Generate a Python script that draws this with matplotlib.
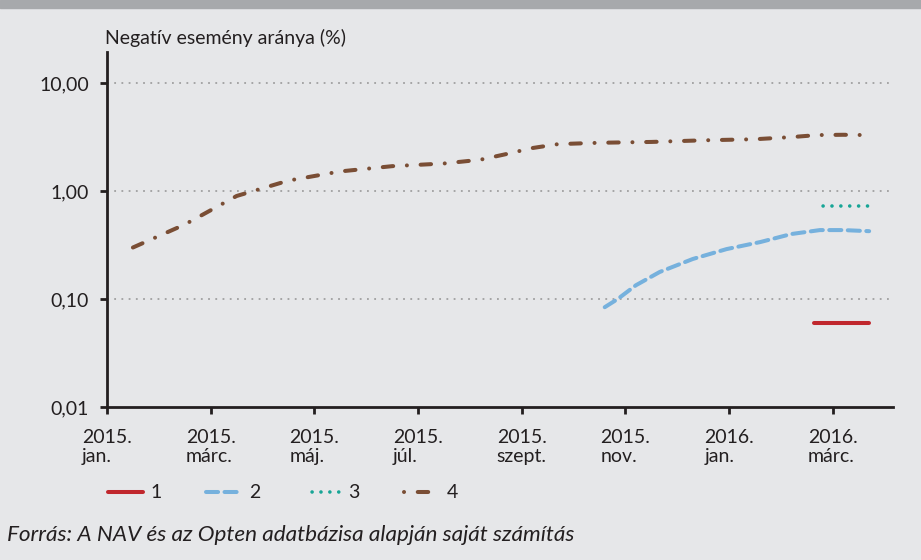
import matplotlib
matplotlib.use("Agg")
import matplotlib.pyplot as plt
from matplotlib.ticker import FixedLocator, NullLocator

plt.rcParams['font.family'] = ['Lato', 'DejaVu Sans']

# month index: 0 = 2015 jan.
tick_months = [0, 2, 4, 6, 8, 10, 12, 14]
tick_labels = ["2015.\njan.", "2015.\nmárc.", "2015.\nmáj.", "2015.\njúl.",
               "2015.\nszept.", "2015.\nnov.", "2016.\njan.", "2016.\nmárc."]

x1 = [13.63, 14.69]
y1 = [0.060, 0.060]

x2 = [9.6, 9.85, 10.2, 10.66, 11.3, 11.95, 12.6, 13.2, 13.75, 14.2, 14.7]
y2 = [0.084, 0.100, 0.134, 0.178, 0.235, 0.290, 0.337, 0.400, 0.435, 0.435, 0.425]

x3 = [13.67, 14.7]
y3 = [0.73, 0.73]

x4 = [0.5, 1.5, 2.5, 3.5, 4.5, 5.5, 6.5, 7.2, 7.7, 8.2, 8.7, 9.5,
      10.5, 11.5, 12.5, 13.2, 13.7, 14.2, 14.65]
y4 = [0.30, 0.49, 0.90, 1.25, 1.52, 1.70, 1.80, 1.95, 2.20, 2.50, 2.72, 2.80,
      2.85, 2.95, 3.02, 3.16, 3.30, 3.32, 3.30]

yticks = [0.01, 0.1, 1, 10]
ytick_labels = ["0,01", "0,10", "1,00", "10,00"]

bg = "#E6E7E9"
ink = "#231F20"
fs = 14

fig = plt.figure(figsize=(9.21, 5.6), dpi=100, facecolor=bg)
fig.patches.append(plt.Rectangle((0, 1 - 8 / 560), 1, 8 / 560, transform=fig.transFigure,
                                 color="#A7A9AC", zorder=0))
ax = fig.add_axes([107 / 921, 1 - 407 / 560, (893 - 107) / 921, (407 - 52) / 560])
ax.set_facecolor(bg)

lw = 2.9
brown_dash = (2.6, 3.4, 0.01, 3.4)
ax.plot(x1, y1, color="#C0272D", lw=lw, solid_capstyle="round", label="1")
ax.plot(x2, y2, color="#76B1DD", lw=lw, dash_capstyle="round", dashes=(3, 1.6), label="2")
ax.plot(x3, y3, color="#17A596", lw=2.6, dash_capstyle="round",
        linestyle=(0.5, (0.01, 2.45)), label="3")
ax.plot(x4, y4, color="#7A4E35", lw=lw, dash_capstyle="round",
        linestyle=(0, brown_dash), label="4")

ax.set_yscale("log")
ax.set_ylim(0.01, 19.4)
ax.set_xlim(0, 15.16)
ax.yaxis.set_major_locator(FixedLocator(yticks))
ax.yaxis.set_minor_locator(NullLocator())
ax.set_yticklabels(ytick_labels)
ax.set_xticks(tick_months)
ax.set_xticklabels(tick_labels, multialignment="left", linespacing=1.15)

for yv in yticks[1:]:
    ax.axhline(yv, color="#A0A0A0", lw=1.3, dashes=(1, 3), zorder=0)

for s in ["top", "right"]:
    ax.spines[s].set_visible(False)
for s in ["left", "bottom"]:
    ax.spines[s].set_linewidth(2)
    ax.spines[s].set_color(ink)
ax.tick_params(axis="both", direction="out", length=5, width=2, color=ink,
               labelsize=fs, labelcolor=ink)
ax.tick_params(axis="y", pad=8)
ax.tick_params(axis="x", pad=11)

fig.text(105 / 921, 1 - 38 / 560, "Negatív esemény aránya (%)", fontsize=fs,
         color=ink, va="center", ha="left")

leg = fig.legend(loc="center left", bbox_to_anchor=(90 / 921, 1 - 493 / 560), ncol=4,
                 frameon=False, fontsize=fs, handlelength=1.8, handletextpad=0.4,
                 columnspacing=2.3, labelcolor=ink)
# brown legend sample starts with a dot, like the original
leg.get_lines()[3].set_linestyle((6.0, brown_dash))

fig.text(7 / 921, 1 - 535 / 560, "Forrás: A NAV és az Opten adatbázisa alapján saját számítás",
         fontsize=16.2, style="italic", color=ink, va="center", ha="left")

fig.savefig("out.png", dpi=100, facecolor=bg)
